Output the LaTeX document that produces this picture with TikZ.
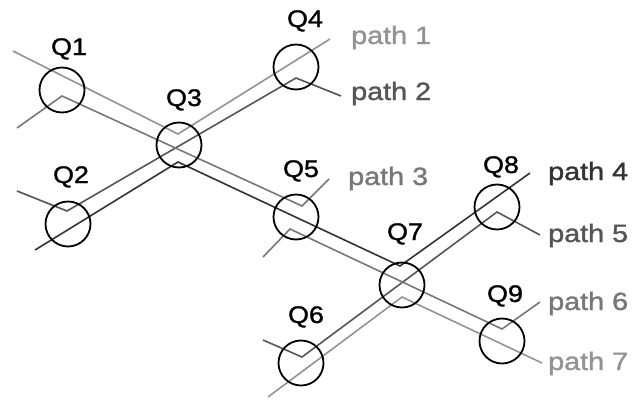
\documentclass[tikz,border=0pt]{standalone}
\usepackage{fontspec}
\setmainfont{Liberation Sans}
\newfontfamily\labfont[FakeBold=1.2]{Liberation Sans}
\usepackage{graphicx}
\definecolor{cA}{HTML}{939393}
\definecolor{cB}{HTML}{555555}
\definecolor{cC}{HTML}{777777}
\definecolor{cD}{HTML}{333333}
\begin{document}
\begin{tikzpicture}[x=1pt,y=-1pt,
  qcirc/.style={draw=black,line width=1.8pt,circle,minimum size=45pt,inner sep=0pt},
  pathline/.style={line width=1.6pt,line join=miter},
  qlabel/.style={anchor=base,inner sep=0pt,font=\labfont\fontsize{24}{28}\selectfont},
  plabel/.style={anchor=base west,inner sep=0pt,font=\labfont\fontsize{25}{30}\selectfont}]
\useasboundingbox (0,0) rectangle (634,399);
% path vertices
\coordinate (s1) at (13,51);  \coordinate (v1) at (178,134); \coordinate (e1) at (330,39);
\coordinate (s2) at (17,191); \coordinate (a2) at (67,211);  \coordinate (b2) at (296,78);  \coordinate (e2) at (341,96);
\coordinate (s3) at (17,128); \coordinate (a3) at (62,96);   \coordinate (b3) at (302,206); \coordinate (e3) at (329,179);
\coordinate (s4) at (35,250); \coordinate (a4) at (178,162); \coordinate (b4) at (400,266); \coordinate (e4) at (530,173);
\coordinate (s5) at (263,340);\coordinate (a5) at (302,357); \coordinate (b5) at (497,212); \coordinate (e5) at (540,235);
\coordinate (s6) at (263,257);\coordinate (a6) at (290,229); \coordinate (b6) at (502,329); \coordinate (e6) at (540,302);
\coordinate (s7) at (268,397);\coordinate (a7) at (402,297); \coordinate (e7) at (542,363);
% paths
\draw[pathline,cA] (s1) -- (v1) -- (e1);
\draw[pathline,cB] (s2) -- (a2) -- (b2) -- (e2);
\draw[pathline,cC] (s3) -- (a3) -- (b3) -- (e3);
\draw[pathline,cD] (s4) -- (a4) -- (b4) -- (e4);
\draw[pathline,cB] (s5) -- (a5) -- (b5) -- (e5);
\draw[pathline,cC] (s6) -- (a6) -- (b6) -- (e6);
\draw[pathline,cA] (s7) -- (a7) -- (e7);
% circles
\node[qcirc] (Q1) at (62,90) {};
\node[qcirc] (Q2) at (68,224) {};
\node[qcirc] (Q3) at (179,145) {};
\node[qcirc] (Q4) at (296,67) {};
\node[qcirc] (Q5) at (296,217) {};
\node[qcirc] (Q6) at (301,363) {};
\node[qcirc] (Q7) at (402,285) {};
\node[qcirc] (Q8) at (497,207) {};
\node[qcirc] (Q9) at (502,341) {};
% Q labels
\node[qlabel] (L1) at (69,55) {\scalebox{1.12}[1]{Q1}};
\node[qlabel] (L2) at (71,183) {\scalebox{1.12}[1]{Q2}};
\node[qlabel] (L3) at (184,106) {\scalebox{1.12}[1]{Q3}};
\node[qlabel] (L4) at (305,27) {\scalebox{1.12}[1]{Q4}};
\node[qlabel] (L5) at (301,177) {\scalebox{1.12}[1]{Q5}};
\node[qlabel] (L6) at (306,323) {\scalebox{1.12}[1]{Q6}};
\node[qlabel] (L7) at (405,240) {\scalebox{1.12}[1]{Q7}};
\node[qlabel] (L8) at (501,173) {\scalebox{1.12}[1]{Q8}};
\node[qlabel] (L9) at (505,302) {\scalebox{1.12}[1]{Q9}};
% path labels
\node[plabel,text=cA] (P1) at (351,44) {\scalebox{1.15}[1]{path 1}};
\node[plabel,text=cB] (P2) at (351,100) {\scalebox{1.15}[1]{path 2}};
\node[plabel,text=cC] (P3) at (348,185) {\scalebox{1.15}[1]{path 3}};
\node[plabel,text=cD] (P4) at (548,180) {\scalebox{1.15}[1]{path 4}};
\node[plabel,text=cB] (P5) at (548,242) {\scalebox{1.15}[1]{path 5}};
\node[plabel,text=cC] (P6) at (548,310) {\scalebox{1.15}[1]{path 6}};
\node[plabel,text=cA] (P7) at (548,370) {\scalebox{1.15}[1]{path 7}};
\end{tikzpicture}
\end{document}
